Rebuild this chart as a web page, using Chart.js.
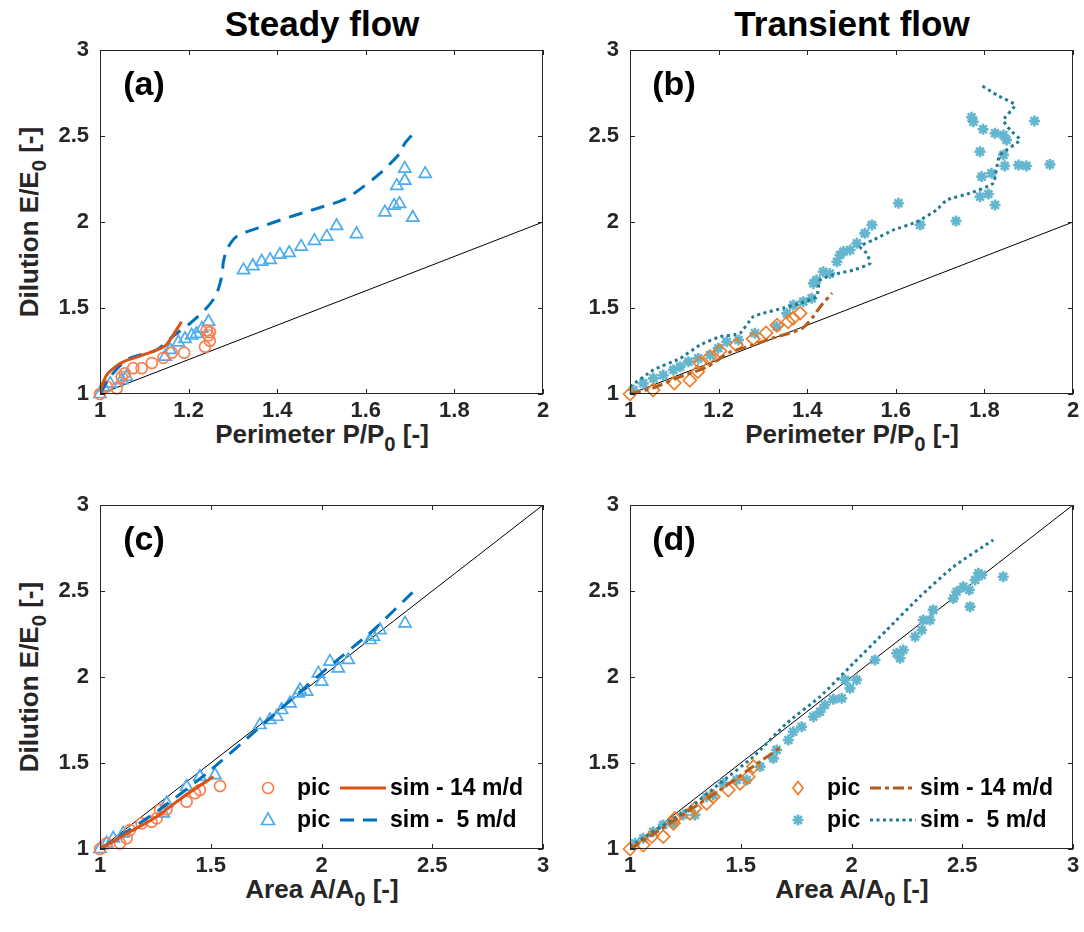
<!DOCTYPE html>
<html>
<head>
<meta charset="utf-8">
<script src="https://cdn.jsdelivr.net/npm/chart.js@4.4.0/dist/chart.umd.min.js"></script>
<style>
  html, body { margin: 0; padding: 0; background: #fff; overflow: hidden; }
  body { width: 1084px; height: 932px; position: relative; font-family: "Liberation Sans", Arial, sans-serif; }
  canvas { position: absolute; }
  .lbl { position: absolute; font-weight: bold; white-space: nowrap; transform: translate(-50%, -50%); color: #262626; }
  .ttl { font-size: 35px; color: #000; }
  .ax { font-size: 26px; }
  .ax sub { font-size: 0.78em; vertical-align: -0.4em; line-height: 0; }
  .rot { transform: translate(-50%, -50%) rotate(-90deg); }
  .pan { font-size: 34px; color: #000; }
</style>
</head>
<body>
<div class="lbl ttl" style="left:322px;top:24px">Steady flow</div>
<div class="lbl ttl" style="left:852px;top:24px">Transient flow</div>
<div class="lbl ax rot" style="left:29px;top:222px">Dilution E/E<sub>0</sub> [-]</div>
<div class="lbl ax rot" style="left:29px;top:677px">Dilution E/E<sub>0</sub> [-]</div>
<div class="lbl ax" style="left:322px;top:434px">Perimeter P/P<sub>0</sub> [-]</div>
<div class="lbl ax" style="left:852px;top:434px">Perimeter P/P<sub>0</sub> [-]</div>
<div class="lbl ax" style="left:322px;top:889px">Area A/A<sub>0</sub> [-]</div>
<div class="lbl ax" style="left:852px;top:889px">Area A/A<sub>0</sub> [-]</div>

<canvas id="ca" width="504" height="415" style="left:50px;top:25px"></canvas>
<canvas id="cb" width="504" height="415" style="left:580px;top:25px"></canvas>
<canvas id="cc" width="504" height="415" style="left:50px;top:480px"></canvas>
<canvas id="cd" width="504" height="415" style="left:580px;top:480px"></canvas>

<div class="lbl pan" style="left:144px;top:83px">(a)</div>
<div class="lbl pan" style="left:674px;top:83px">(b)</div>
<div class="lbl pan" style="left:144px;top:538px">(c)</div>
<div class="lbl pan" style="left:674px;top:538px">(d)</div>

<script>
// ---- tick labels
const perimTicks = [1, 1.2, 1.4, 1.6, 1.8, 2];
const areaTicks = [1, 1.5, 2, 2.5, 3];
const dilTicks = [1, 1.5, 2, 2.5, 3];

// ---- (a) steady, perimeter
const aPic14X = [1.0, 1.015, 1.038, 1.049, 1.056, 1.075, 1.094, 1.117, 1.143, 1.162, 1.19, 1.237, 1.241, 1.245, 1.248, 1.248];
const aPic14Y = [1.0, 1.043, 1.033, 1.10, 1.12, 1.15, 1.15, 1.18, 1.21, 1.24, 1.24, 1.275, 1.37, 1.34, 1.31, 1.36];
const aSim14X = [1.0, 1.005, 1.015, 1.038, 1.06, 1.09, 1.128, 1.147, 1.162, 1.184];
const aSim14Y = [1.0, 1.05, 1.11, 1.165, 1.195, 1.22, 1.256, 1.28, 1.33, 1.42];
const aPic5X = [1.0, 1.008, 1.023, 1.049, 1.06, 1.147, 1.158, 1.177, 1.192, 1.207, 1.218, 1.23, 1.245,
  1.324, 1.345, 1.365, 1.384, 1.406, 1.427, 1.454, 1.484, 1.512, 1.534, 1.579, 1.643, 1.664, 1.676, 1.67, 1.688, 1.688, 1.706, 1.734];
const aPic5Y = [1.0, 1.04, 1.06, 1.08, 1.10, 1.217, 1.256, 1.30, 1.32, 1.34, 1.35, 1.38, 1.42,
  1.72, 1.744, 1.77, 1.78, 1.81, 1.82, 1.857, 1.89, 1.915, 1.977, 1.93, 2.056, 2.095, 2.105, 2.21, 2.24, 2.31, 2.025, 2.28];
const aSim5X = [1.0, 1.023, 1.06, 1.09, 1.128, 1.162, 1.203, 1.237, 1.26, 1.271, 1.277, 1.278, 1.286, 1.308, 1.354, 1.429, 1.504, 1.549, 1.579, 1.632, 1.677, 1.688, 1.711];
const aSim5Y = [1.0, 1.10, 1.198, 1.227, 1.256, 1.33, 1.41, 1.49, 1.566, 1.643, 1.72, 1.76, 1.837, 1.915, 1.963, 2.03, 2.09, 2.128, 2.176, 2.283, 2.40, 2.457, 2.525];

// ---- (b) transient, perimeter
const bPic14X = [1.0, 1.052, 1.10, 1.135, 1.153, 1.158, 1.18, 1.203, 1.24, 1.278, 1.307, 1.332, 1.357, 1.368, 1.384];
const bPic14Y = [1.0, 1.023, 1.064, 1.08, 1.13, 1.18, 1.215, 1.25, 1.285, 1.32, 1.355, 1.40, 1.42, 1.44, 1.47];
const bSim14X = [1.0, 1.052, 1.113, 1.174, 1.226, 1.278, 1.323, 1.361, 1.39, 1.413, 1.429, 1.456];
const bSim14Y = [1.0, 1.035, 1.10, 1.157, 1.244, 1.285, 1.326, 1.355, 1.384, 1.448, 1.506, 1.587];
const bPic5X = [1.008, 1.03, 1.053, 1.075, 1.098, 1.113, 1.132, 1.154, 1.181, 1.199, 1.218, 1.245, 1.282, 1.331, 1.354, 1.369,
  1.391, 1.41, 1.414, 1.421, 1.436, 1.451, 1.467, 1.474, 1.482, 1.497, 1.512, 1.53, 1.546, 1.606, 1.655, 1.736, 1.79, 1.809,
  1.824, 1.794, 1.816, 1.79, 1.843, 1.846, 1.877, 1.895, 1.948, 1.824, 1.843, 1.85, 1.797, 1.775, 1.771, 1.913];
const bPic5Y = [1.023, 1.062, 1.091, 1.11, 1.14, 1.159, 1.188, 1.207, 1.227, 1.266, 1.304, 1.314, 1.353, 1.391, 1.469, 1.517,
  1.537, 1.556, 1.643, 1.663, 1.711, 1.70, 1.769, 1.808, 1.828, 1.837, 1.876, 1.934, 1.983, 2.109, 1.983, 2.006, 2.147, 2.163,
  2.099, 2.264, 2.283, 2.409, 2.39, 2.326, 2.331, 2.326, 2.335, 2.516, 2.506, 2.477, 2.539, 2.583, 2.609, 2.587];
const bSim5X = [1.0, 1.053, 1.113, 1.158, 1.203, 1.248, 1.278, 1.30, 1.346, 1.384, 1.421, 1.429, 1.467, 1.504, 1.542, 1.534,
  1.519, 1.549, 1.594, 1.647, 1.692, 1.715, 1.767, 1.82, 1.828, 1.835, 1.88, 1.858, 1.843, 1.869, 1.828, 1.79];
const bSim5Y = [1.043, 1.14, 1.207, 1.285, 1.333, 1.353, 1.45, 1.469, 1.50, 1.527, 1.566, 1.663, 1.70, 1.72, 1.76, 1.818,
  1.857, 1.895, 1.953, 2.0, 2.07, 2.128, 2.167, 2.225, 2.32, 2.39, 2.477, 2.535, 2.593, 2.68, 2.738, 2.80];

// ---- (c) steady, area
const cPic14X = [1.0, 1.03, 1.09, 1.12, 1.135, 1.188, 1.233, 1.256, 1.271, 1.30, 1.391, 1.429, 1.451, 1.542];
const cPic14Y = [1.0, 1.033, 1.033, 1.062, 1.11, 1.149, 1.159, 1.178, 1.227, 1.23, 1.275, 1.324, 1.343, 1.366];
const cSim14X = [1.0, 1.135, 1.256, 1.376, 1.512];
const cSim14Y = [1.0, 1.10, 1.188, 1.304, 1.42];
const cPic5X = [1.0, 1.03, 1.06, 1.105, 1.286, 1.301, 1.391, 1.451, 1.519, 1.722, 1.767, 1.798, 1.82, 1.858, 1.895, 1.903,
  1.933, 1.986, 2.001, 2.038, 2.076, 2.121, 2.219, 2.234, 2.264, 2.377];
const cPic5Y = [1.0, 1.033, 1.062, 1.091, 1.207, 1.266, 1.362, 1.42, 1.43, 1.721, 1.75, 1.769, 1.808, 1.847, 1.905, 1.924,
  1.915, 2.021, 1.973, 2.089, 2.05, 2.099, 2.215, 2.234, 2.273, 2.312];
const cSim5X = [1.0, 1.256, 1.482, 1.707, 2.008, 2.234, 2.43];
const cSim5Y = [1.0, 1.217, 1.44, 1.692, 2.031, 2.273, 2.516];

// ---- (d) transient, area
const dPic14X = [1.0, 1.06, 1.098, 1.15, 1.196, 1.203, 1.271, 1.293, 1.346, 1.376, 1.444, 1.497, 1.534, 1.557];
const dPic14Y = [1.0, 1.023, 1.072, 1.072, 1.149, 1.178, 1.207, 1.236, 1.266, 1.304, 1.343, 1.382, 1.42, 1.479];
const dSim14X = [1.0, 1.18, 1.406, 1.587, 1.685];
const dSim14Y = [1.0, 1.149, 1.343, 1.508, 1.595];
const dPic5X = [1.023, 1.06, 1.105, 1.15, 1.196, 1.241, 1.293, 1.346, 1.376, 1.421, 1.482, 1.527, 1.587, 1.647, 1.662, 1.715,
  1.737, 1.775, 1.828, 1.858, 1.88, 1.918, 1.956, 1.993, 1.971, 2.023, 2.106, 2.204, 2.234, 2.219, 2.287, 2.317, 2.324, 2.354,
  2.369, 2.46, 2.475, 2.505, 2.532, 2.535, 2.558, 2.573, 2.588, 2.685];
const dPic5Y = [1.033, 1.062, 1.10, 1.14, 1.149, 1.198, 1.198, 1.304, 1.314, 1.382, 1.401, 1.401, 1.479, 1.527, 1.576, 1.634,
  1.682, 1.711, 1.769, 1.798, 1.837, 1.87, 1.876, 1.934, 1.983, 1.983, 2.099, 2.138, 2.157, 2.109, 2.234, 2.273, 2.331, 2.331,
  2.39, 2.457, 2.496, 2.525, 2.506, 2.409, 2.564, 2.603, 2.593, 2.583];
const dSim5X = [1.0, 1.256, 1.406, 1.557, 1.707, 1.858, 2.008, 2.159, 2.309, 2.46, 2.64];
const dSim5Y = [1.014, 1.227, 1.382, 1.537, 1.731, 1.886, 2.079, 2.273, 2.467, 2.641, 2.797];

// 1:1 reference lines
const refPerimX = [1, 2], refPerimY = [1, 2];
const refAreaX = [1, 3], refAreaY = [1, 3];

// colours
const C_CIRC = "rgb(252,128,80)", C_SOLID = "rgb(217,83,25)";
const C_TRI = "rgb(77,172,238)", C_DASH = "rgb(0,114,189)";
const C_DIAM = "rgb(237,125,40)", C_DDOT = "rgb(180,92,24)";
const C_STAR = "rgb(100,182,206)", C_DOT = "rgb(35,122,142)";
const AX = "#262626";
const FONT = '"Liberation Sans", Arial, sans-serif';

const pts = (xs, ys) => xs.map((x, i) => ({ x: x, y: ys[i] }));

function markers(xs, ys, color, style) {
  const r = style == "triangle" ? 7 : style == "rectRot" ? 6.5 : style == "star" ? 5.5 : 5.5;
  return {
    data: pts(xs, ys), showLine: false, pointStyle: style, pointRadius: r,
    pointBorderWidth: style == "star" ? 2.6 : 1.7, pointBorderColor: color,
    pointBackgroundColor: "rgba(0,0,0,0)", clip: false, order: 2
  };
}
function curve(xs, ys, color, dash, w, tension) {
  return {
    data: pts(xs, ys), showLine: true, pointRadius: 0, borderColor: color, borderWidth: w,
    borderDash: dash, tension: tension, order: 1, borderCapStyle: "butt"
  };
}

// box + inward ticks like the original figure
const frame = {
  id: "frame",
  afterDraw(chart) {
    const { ctx, chartArea: a, scales } = chart;
    ctx.save();
    ctx.strokeStyle = AX; ctx.lineWidth = 1;
    ctx.strokeRect(a.left + 0.5, a.top + 0.5, a.right - a.left - 1, a.bottom - a.top - 1);
    ctx.beginPath();
    for (const t of scales.x.ticks) {
      const px = Math.round(scales.x.getPixelForValue(t.value)) + 0.5;
      ctx.moveTo(px, a.bottom); ctx.lineTo(px, a.bottom - 5);
      ctx.moveTo(px, a.top); ctx.lineTo(px, a.top + 5);
    }
    for (const t of scales.y.ticks) {
      const py = Math.round(scales.y.getPixelForValue(t.value)) + 0.5;
      ctx.moveTo(a.left, py); ctx.lineTo(a.left + 5, py);
      ctx.moveTo(a.right, py); ctx.lineTo(a.right - 5, py);
    }
    ctx.stroke();
    ctx.restore();
  }
};

function drawMarker(ctx, style, x, y, color) {
  ctx.save();
  ctx.strokeStyle = color; ctx.lineWidth = style == "star" ? 2.6 : 1.7;
  ctx.beginPath();
  if (style == "circle") ctx.arc(x, y, 5.5, 0, Math.PI * 2);
  else if (style == "triangle") {
    ctx.moveTo(x, y - 7); ctx.lineTo(x + 6.5, y + 4.5); ctx.lineTo(x - 6.5, y + 4.5); ctx.closePath();
  } else if (style == "rectRot") {
    ctx.moveTo(x, y - 6.5); ctx.lineTo(x + 5, y); ctx.lineTo(x, y + 6.5); ctx.lineTo(x - 5, y); ctx.closePath();
  } else {
    for (let k = 0; k < 4; k++) {
      const ang = k * Math.PI / 4;
      ctx.moveTo(x - 5.5 * Math.cos(ang), y - 5.5 * Math.sin(ang));
      ctx.lineTo(x + 5.5 * Math.cos(ang), y + 5.5 * Math.sin(ang));
    }
  }
  ctx.stroke();
  ctx.restore();
}

function legendPlugin(rows) {
  return {
    id: "lgd",
    afterDraw(chart) {
      const { ctx, chartArea: a } = chart;
      ctx.save();
      ctx.font = "bold 23px " + FONT;
      ctx.textBaseline = "middle";
      ctx.fillStyle = "#000";
      rows.forEach((r, i) => {
        const y = a.bottom - 61 + i * 32;
        drawMarker(ctx, r.marker, a.left + 168, y, r.mColor);
        ctx.fillText("pic", a.left + 197, y + 1);
        ctx.strokeStyle = r.lColor; ctx.lineWidth = 3; ctx.setLineDash(r.dash);
        ctx.beginPath(); ctx.moveTo(a.left + 240, y); ctx.lineTo(a.left + 286, y); ctx.stroke();
        ctx.setLineDash([]);
        ctx.fillText(r.text, a.left + 290, y + 1);
      });
      ctx.restore();
    }
  };
}

function makePanel(id, xTicks, datasets, extra) {
  const tickFont = { family: FONT, size: 22, weight: "bold" };
  const fmt = v => String(+(+v).toFixed(2));
  return new Chart(document.getElementById(id), {
    type: "scatter",
    data: { datasets: datasets },
    plugins: [frame].concat(extra || []),
    options: {
      responsive: false, animation: false, devicePixelRatio: 1,
      layout: { padding: { left: 0, right: 11, top: 25, bottom: 0 } },
      plugins: { legend: { display: false }, tooltip: { enabled: false } },
      scales: {
        x: {
          type: "linear", min: xTicks[0], max: xTicks[xTicks.length - 1],
          grid: { display: false, drawTicks: false }, border: { display: false },
          ticks: { font: tickFont, color: AX, padding: 4, autoSkip: false, maxRotation: 0, callback: fmt },
          afterBuildTicks: s => { s.ticks = xTicks.map(v => ({ value: v })); },
          afterFit: s => { s.height = 46; }
        },
        y: {
          type: "linear", min: 1, max: 3,
          grid: { display: false, drawTicks: false }, border: { display: false },
          ticks: { font: tickFont, color: AX, padding: 11, autoSkip: false, callback: fmt },
          afterBuildTicks: s => { s.ticks = dilTicks.map(v => ({ value: v })); },
          afterFit: s => { s.width = 50; }
        }
      }
    }
  });
}

const DASH = [14, 9], DDOT = [11, 4, 4, 4], DOT = [3, 3.5];
const refLine = (xs, ys) => ({ data: pts(xs, ys), showLine: true, pointRadius: 0, borderColor: "#000", borderWidth: 1, order: 3 });

makePanel("ca", perimTicks, [
  curve(aSim14X, aSim14Y, C_SOLID, [], 3, 0.3),
  curve(aSim5X, aSim5Y, C_DASH, DASH, 3, 0.3),
  markers(aPic14X, aPic14Y, C_CIRC, "circle"),
  markers(aPic5X, aPic5Y, C_TRI, "triangle"),
  refLine(refPerimX, refPerimY)
]);

makePanel("cb", perimTicks, [
  curve(bSim14X, bSim14Y, C_DDOT, DDOT, 3, 0.2),
  curve(bSim5X, bSim5Y, C_DOT, DOT, 3, 0.15),
  markers(bPic14X, bPic14Y, C_DIAM, "rectRot"),
  markers(bPic5X, bPic5Y, C_STAR, "star"),
  refLine(refPerimX, refPerimY)
]);

makePanel("cc", areaTicks, [
  curve(cSim14X, cSim14Y, C_SOLID, [], 3, 0.2),
  curve(cSim5X, cSim5Y, C_DASH, DASH, 3, 0.2),
  markers(cPic14X, cPic14Y, C_CIRC, "circle"),
  markers(cPic5X, cPic5Y, C_TRI, "triangle"),
  refLine(refAreaX, refAreaY)
], [legendPlugin([
  { marker: "circle", mColor: C_CIRC, lColor: C_SOLID, dash: [], text: "sim - 14 m/d" },
  { marker: "triangle", mColor: C_TRI, lColor: C_DASH, dash: DASH, text: "sim -  5 m/d" }
])]);

makePanel("cd", areaTicks, [
  curve(dSim14X, dSim14Y, C_DDOT, DDOT, 3, 0.2),
  curve(dSim5X, dSim5Y, C_DOT, DOT, 3, 0.2),
  markers(dPic14X, dPic14Y, C_DIAM, "rectRot"),
  markers(dPic5X, dPic5Y, C_STAR, "star"),
  refLine(refAreaX, refAreaY)
], [legendPlugin([
  { marker: "rectRot", mColor: C_DIAM, lColor: C_DDOT, dash: DDOT, text: "sim - 14 m/d" },
  { marker: "star", mColor: C_STAR, lColor: C_DOT, dash: DOT, text: "sim -  5 m/d" }
])]);
</script>
</body>
</html>
